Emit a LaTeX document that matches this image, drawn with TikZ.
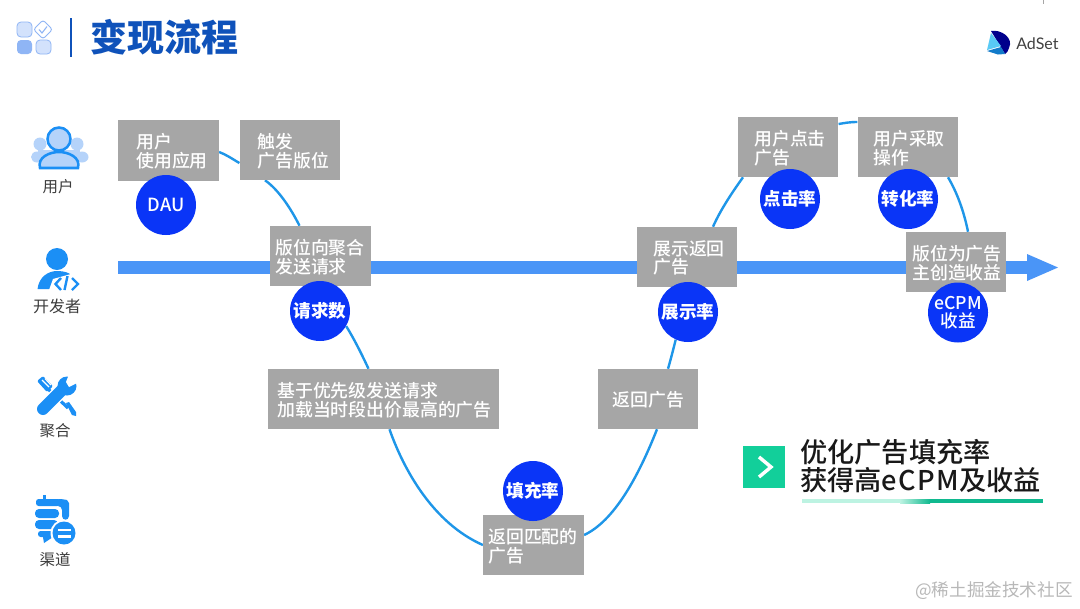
\documentclass[tikz,border=0pt]{standalone}
\usepackage{fontspec}
\setmainfont{Noto Sans CJK SC}
\newfontfamily\latinf{Lato}
\newfontfamily\medf{Noto Sans CJK SC Medium}
\newfontfamily\softf{Noto Sans CJK SC Medium}
\usetikzlibrary{calc,shadings}
\pgfdeclarelayer{bg}
\pgfsetlayers{bg,main}
\definecolor{boxgray}{HTML}{A6A6A6}
\definecolor{dotblue}{HTML}{0A35F7}
\definecolor{flowblue}{HTML}{1E96E8}
\definecolor{barblue}{HTML}{4A95F7}
\definecolor{iconblue}{HTML}{1B8FF5}
\definecolor{titleblue}{HTML}{0F52BA}
\definecolor{lightblue}{HTML}{B5D3FA}
\definecolor{tileblue}{HTML}{D3E2FC}
\definecolor{tileedge}{HTML}{8FB5F5}
\definecolor{mint}{HTML}{12CF9A}
\definecolor{deepmint}{HTML}{10B98F}
\definecolor{palemint}{HTML}{BDF3E2}
\definecolor{labelgray}{HTML}{3C3C3C}
\tikzset{
 stepbox/.style={fill=boxgray,inner sep=0pt,minimum width=75.5pt,minimum height=45pt},
 steptext/.style={inner sep=0pt,anchor=west,yshift=-0.7pt,text=white,align=left,font=\fontsize{13.4}{14}\selectfont\softf},
 ratedot/.style={circle,fill=dotblue,inner sep=0pt,minimum size=45pt,text=white,align=center,font=\fontsize{13.2}{14}\selectfont\bfseries},
 flow/.style={draw=flowblue,line width=1.8pt},
 rolelabel/.style={inner sep=0pt,text=labelgray,font=\fontsize{12}{13}\selectfont},
 tile/.style={draw=tileedge,fill=tileblue,line width=.6pt,rounded corners=3pt},
 iconfill/.style={fill=iconblue,draw=none},
}
\begin{document}
\begin{tikzpicture}[x=0.75pt,y=-0.75pt]
\useasboundingbox (0,0) rectangle (1080,608);
\begin{pgfonlayer}{bg}
\fill[white] (0,0) rectangle (1080,608);
\end{pgfonlayer}

% header
\draw[tile] (17,22) rectangle (32,37);
\fill[fill=tileedge,rounded corners=3pt] (17,40) rectangle (32,54);
\draw[tile] (36,40) rectangle (51,54);
\draw[tileedge,fill=white,line width=.7pt,rounded corners=2pt] (43,20) -- (52.5,29.5) -- (43,39) -- (33.5,29.5) -- cycle;
\draw[tileedge,line width=.8pt] (39,29.5) -- (42,33) -- (47,26.5);
\draw[titleblue,line width=.9pt] (71,18) -- (71,57);
\node[inner sep=0pt,anchor=west,text=titleblue,font=\fontsize{27.8}{30}\selectfont\bfseries] (title) at (90.5,37) {变现流程};

% logo
\fill[black!35] (1042.6,0) rectangle (1043.4,4);
\fill[blue!55!black] (991,31) .. controls (1001,29) and (1014,38) .. (1009,48) .. controls (1008,51) and (1007,53) .. (1005,54) -- cycle;
\fill[cyan!65!white] (991,33) -- (1001,46) -- (987,50) -- cycle;
\fill[cyan!60!blue] (987,51) -- (1001,47) -- (1005,54) -- (998,54.5) -- cycle;
\node[inner sep=0pt,anchor=west,text=black!75,font=\fontsize{12}{12}\selectfont\latinf] (brand) at (1016,43.5) {AdSet};

% main axis
\fill[barblue] (118,261) rectangle (1028,274);
\fill[barblue] (1027,254) -- (1058,267.5) -- (1027,281) -- cycle;

% step boxes
\node[stepbox,minimum height=45.5pt] (n1) at (168.5,150.5) {};
\node[stepbox] (n2) at (290,150) {};
\node[stepbox] (n3) at (320.5,256) {};
\node[stepbox,minimum width=173pt] (n4) at (383.5,399) {};
\node[stepbox] (n5) at (533.5,545) {};
\node[stepbox] (n6) at (648,399) {};
\node[stepbox] (n7) at (687,257) {};
\node[stepbox] (n8) at (788,147) {};
\node[stepbox] (n9) at (908,147) {};
\node[stepbox] (n10) at (956,262) {};

% rate dots
\node[ratedot,font=\fontsize{13.6}{14}\selectfont\softf] (d1) at (166,205) {DAU};
\node[ratedot] (d3) at (320,311) {请求数};
\node[ratedot] (d5) at (533,491) {填充率};
\node[ratedot] (d7) at (688,312) {展示率};
\node[ratedot] (d8) at (790,199) {点击率};
\node[ratedot] (d9) at (908,199) {转化率};
\node[ratedot,font=\fontsize{13.2}{14}\selectfont\softf] (d10) at (958,312.5) {eCPM\\[-1pt]收益};

% step labels
\node[steptext] (t1) at (136,150.5) {用户\\使用应用};
\node[steptext] (t2) at (257.5,150.5) {触发\\广告版位};
\node[steptext] (t3) at (275,256) {版位向聚合\\发送请求};
\node[steptext] (t4) at (277,399) {基于优先级发送请求\\加载当时段出价最高的广告};
\node[steptext] (t5) at (488,545.5) {返回匹配的\\广告};
\node[steptext] (t6) at (612.5,398.5) {返回广告};
\node[steptext] (t7) at (653,257) {展示返回\\广告};
\node[steptext] (t8) at (754,147.5) {用户点击\\广告};
\node[steptext] (t9) at (873,147.5) {用户采取\\操作};
\node[steptext] (t10) at (912,262.5) {版位为广告\\主创造收益};

% flow curve
\begin{pgfonlayer}{bg}
\draw[flow] ($(n1.east)+(0,1.5)$) .. controls ($(n1.east)+(7,4)$) and ($(n2.west)+(-7,9)$) .. ($(n2.west)+(0,13)$);
\draw[flow] ($(n2.south)+(-25,0)$) .. controls ($(n2.south)+(-12,9)$) and ($(n3.north)+(-30,-18)$) .. ($(n3.north)+(-21,0)$);
\draw[flow] (d3.-30) .. controls ($(d3.-30)+(8,13)$) and ($(n4.north)+(-22,-15)$) .. ($(n4.north)+(-15,0)$);
\draw[flow] ($(n4.south)+(6,0)$) .. controls ($(n4.south)+(20,40)$) and ($(n5.west)+(-50,-22)$) .. ($(n5.west)+(0,0)$);
\draw[flow] ($(n5.east)+(0,-10)$) .. controls ($(n5.east)+(30,-24)$) and ($(n6.south)+(-10,48)$) .. ($(n6.south)+(9,0)$);
\draw[flow] ($(n6.north)+(20,0)$) .. controls ($(n6.north)+(23,-10)$) and (d7.-114) .. (d7.-114);
\draw[flow] ($(n7.north)+(26,0)$) .. controls ($(n7.north)+(34,-18)$) and ($(n8.south)+(-55,14)$) .. ($(n8.south)+(-45,0)$);
\draw[flow] ($(n8.east)+(0,-23)$) .. controls ($(n8.east)+(6,-24)$) and ($(n9.west)+(-8,-25)$) .. ($(n9.west)+(0,-25)$);
\draw[flow] ($(n9.south)+(40,0)$) .. controls ($(n9.south)+(49,15)$) and ($(n10.north)+(8,-20)$) .. ($(n10.north)+(12,0)$);
\end{pgfonlayer}

% role: user
\fill[lightblue] (40,144) circle (6.5);
\fill[lightblue] (77,144) circle (6.5);
\fill[lightblue] (37,157) ellipse (6 and 5.5);
\fill[lightblue] (82,157) ellipse (6.5 and 5.5);
\fill[lightblue] (38,150) rectangle (80,162);
\draw[iconblue,line width=1.9pt,fill=lightblue] (40,168) .. controls (37,157) and (50,152) .. (59,152) .. controls (68,152) and (81,157) .. (78,168) -- cycle;
\draw[iconblue,line width=1.9pt,fill=lightblue] (59,139) circle (11.5);
\node[rolelabel,font=\fontsize{11.6}{13}\selectfont] (r1) at (58,187) {用户};

% role: developer
\fill[iconfill] (57,259) circle (11);
\fill[iconfill] (37.5,289) .. controls (39,277) and (48,271) .. (57,271) .. controls (66,271) and (73,274) .. (76,280) -- (57,289) -- cycle;
\fill[white] (49,290) -- (53,279) -- (78,272) -- (81,291) -- cycle;
\draw[iconblue,line width=1.8pt] (61,278) -- (55.5,284) -- (61,290);
\draw[iconblue,line width=1.8pt] (67.5,276) -- (64.5,290);
\draw[iconblue,line width=1.8pt] (72,278) -- (78,284) -- (72,290);
\node[rolelabel] (r2) at (57,306) {开发者};

% role: aggregator
\fill[iconfill,rounded corners=1pt] (37,381) -- (43,376) -- (53,386) -- (47,392) -- cycle;
\draw[iconblue,line width=2.4pt] (48,389) -- (68,408);
\fill[iconfill] (66,403) -- (69,402) -- (76,412) -- (76,416) -- (72,415) -- cycle;
\draw[white,line width=.9pt] (42,380) -- (49,387);
\draw[white,line width=.9pt] (45,378.5) -- (51,385);
\draw[white,line width=11pt] (52,400) -- (62,390);
\draw[iconblue,line width=9pt,line cap=round] (43,409) -- (64,388);
\fill[iconfill] (67,386) circle (9.5);
\fill[white] (69.5,373) -- (66,382) -- (69,387) -- (78,382.5) -- (80,373) -- cycle;
\node[rolelabel,font=\fontsize{11.6}{13}\selectfont] (r3) at (55,431) {聚合};

% role: channel
\fill[iconfill,rounded corners=2pt] (36,499) rectangle (60,506);
\fill[iconfill] (43,495) rectangle (46,500);
\fill[iconfill,rounded corners=3pt] (55,499) -- (63,499) .. controls (67,500) and (69,503) .. (69,507) -- (69,520) -- (62,520) -- (62,506) -- (55,506) -- cycle;
\fill[iconfill,rounded corners=3pt] (35,509) rectangle (59,518);
\fill[iconfill,rounded corners=3pt] (35,520) rectangle (58,529);
\fill[iconfill,rounded corners=2pt] (38,531) rectangle (56,537);
\fill[iconfill] (43,537) -- (53,537) -- (44,543) -- cycle;
\fill[white] (64,533) circle (13.5);
\fill[iconfill] (64,533) circle (11.5);
\fill[white] (58,528.5) rectangle (71,531);
\fill[white] (58,535) rectangle (71,537.5);
\node[rolelabel,font=\fontsize{11.6}{13}\selectfont] (r4) at (55,560) {渠道};

% callout
\fill[mint] (743,446) rectangle (785,488);
\draw[white,line width=2.6pt] (759,457) -- (771,467) -- (759,477);
\node[inner sep=0pt,anchor=west,align=left,text=black!90,font=\fontsize{20.4}{20.8}\selectfont\medf] (note) at (800,466) {优化广告填充率\\获得高{\addfontfeatures{LetterSpace=5}eCPM}及收益};
\fill[palemint] (802,499) rectangle (900,503);
\shade[left color=palemint,right color=deepmint] (900,499) rectangle (930,503);
\fill[deepmint] (930,499) rectangle (1043,503);

% watermark
\node[inner sep=0pt,anchor=west,text=black!28,font=\fontsize{13.2}{14}\selectfont] (wm) at (915,591) {@稀土掘金技术社区};
\end{tikzpicture}
\end{document}
